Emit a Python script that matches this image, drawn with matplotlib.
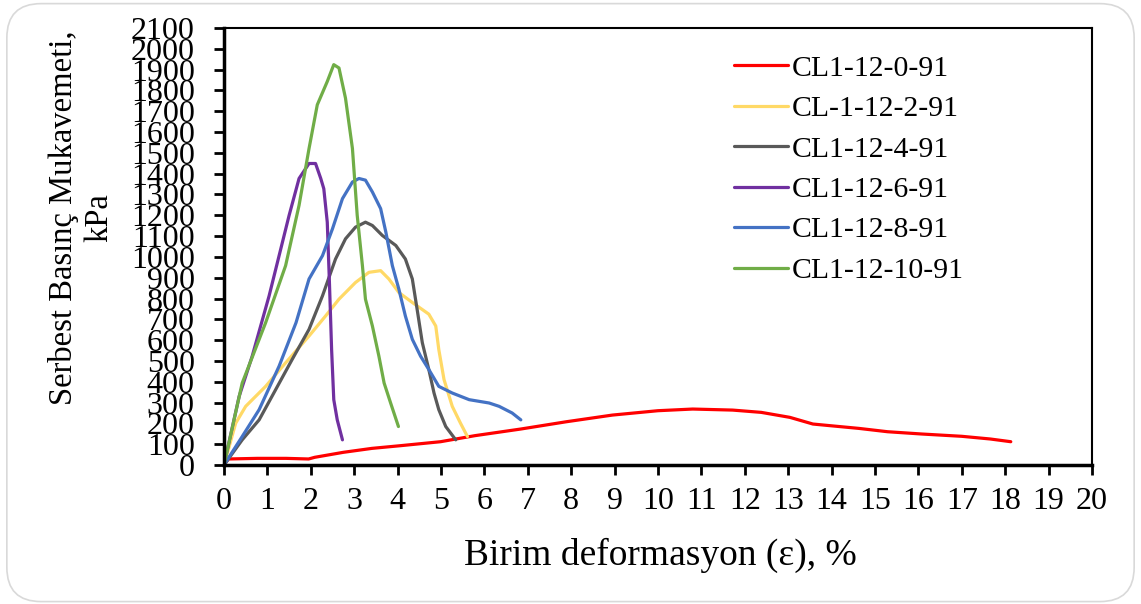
import numpy as np
import matplotlib.pyplot as plt
from matplotlib.patches import FancyBboxPatch

plt.rcParams['font.family'] = ['Liberation Serif', 'DejaVu Serif']

# strain (%) and strength (kPa)
x_0 = [0, 0.1, 0.77, 1.43, 1.95, 2.09, 2.75, 3.41, 4.07, 4.99, 5.78, 6.84, 7.89, 8.95,
       10.0, 10.8, 11.72, 12.38, 13.04, 13.57, 13.97, 14.63, 15.29, 16.08, 17.0, 17.66, 18.13]
y_0 = [0, 29, 32, 32, 29, 37, 61, 80, 93, 112, 141, 173, 208, 240,
       261, 269, 264, 253, 229, 197, 189, 176, 160, 149, 138, 125, 112]

x_2 = [0, 0.27, 0.50, 0.96, 1.42, 1.96, 2.34, 2.65, 3.03, 3.34, 3.61, 3.80, 4.03, 4.34,
       4.72, 4.88, 4.95, 5.07, 5.26, 5.45, 5.61]
y_2 = [0, 201, 282, 378, 491, 620, 716, 797, 877, 926, 934, 894, 829, 781,
       725, 668, 555, 411, 282, 201, 137]

x_4 = [0, 0.42, 0.81, 1.19, 1.57, 1.96, 2.27, 2.57, 2.80, 3.03, 3.26, 3.42, 3.65, 3.96,
       4.18, 4.34, 4.45, 4.57, 4.72, 4.84, 4.95, 5.11, 5.34]
y_4 = [0, 121, 217, 362, 507, 652, 813, 990, 1087, 1143, 1167, 1151, 1103, 1055,
       990, 894, 749, 588, 459, 346, 266, 185, 121]

x_6 = [0, 0.35, 0.65, 1.04, 1.27, 1.50, 1.73, 1.96, 2.11, 2.23, 2.30, 2.38, 2.43, 2.48,
       2.53, 2.61, 2.73]
y_6 = [0, 330, 523, 813, 1006, 1199, 1377, 1449, 1449, 1377, 1328, 1167, 877, 555,
       314, 217, 121]

x_8 = [0, 0.42, 0.81, 1.27, 1.66, 1.96, 2.27, 2.50, 2.73, 2.96, 3.11, 3.26, 3.42, 3.61,
       3.73, 3.88, 4.03, 4.18, 4.34, 4.53, 4.72, 4.95, 5.26, 5.65, 6.11, 6.34, 6.64, 6.84]
y_8 = [0, 137, 266, 475, 684, 894, 1006, 1135, 1280, 1360, 1377, 1369, 1312, 1232,
       1119, 958, 845, 716, 604, 523, 459, 378, 346, 314, 298, 282, 250, 217]

x_10 = [0, 0.42, 0.96, 1.42, 1.73, 1.96, 2.15, 2.38, 2.53, 2.65, 2.80, 2.96, 3.07, 3.19,
        3.26, 3.42, 3.57, 3.69, 3.84, 4.02]
y_10 = [0, 394, 684, 958, 1248, 1521, 1731, 1843, 1924, 1908, 1763, 1521, 1200, 958,
        797, 668, 523, 394, 298, 185]

labels = ['CL1-12-0-91', 'CL-1-12-2-91', 'CL1-12-4-91', 'CL1-12-6-91', 'CL1-12-8-91', 'CL1-12-10-91']
colors = ['#FF0000', '#FFD966', '#595959', '#7030A0', '#4472C4', '#70AD47']
xs = [x_0, x_2, x_4, x_6, x_8, x_10]
ys = [y_0, y_2, y_4, y_6, y_8, y_10]

fig = plt.figure(figsize=(11.41, 6.04), dpi=100)
ax = fig.add_axes([0.1963, 0.2301, 0.7607, 0.7235])

for x, y, c, lab in zip(xs, ys, colors, labels):
    ax.plot(x, y, color=c, lw=2.3, label=lab, solid_capstyle='round', solid_joinstyle='round')

ax.set_xlim(0, 20)
ax.set_ylim(0, 2100)
ax.set_xticks(np.arange(0, 21, 1))
ax.set_yticks(np.arange(0, 2101, 100))
ax.tick_params(direction='out', length=7, width=2, labelsize=23)
ax.tick_params(axis='x', pad=9)
ax.tick_params(axis='y', pad=14)
for s in ['left', 'bottom']:
    ax.spines[s].set_linewidth(2.5)
for s in ['top', 'right']:
    ax.spines[s].set_linewidth(1.5)

fig.text(0.5785, 0.0646, 'Birim deformasyon (ε), %', fontsize=27, ha='center', va='baseline')
fig.text(0.071, 0.639, 'Serbest Basınç Mukavemeti,\nkPa', rotation=90, fontsize=23.5,
         ha='center', va='center', multialignment='center', linespacing=1.2)

leg = ax.legend(loc='upper left', bbox_to_anchor=(0.557, 1.0), frameon=False,
                fontsize=21.4, handlelength=1.8, handletextpad=0.15, labelspacing=0.46)

border = FancyBboxPatch((0.006, 0.004), 0.988, 0.99, boxstyle='round,pad=0,rounding_size=0.03',
                        transform=fig.transFigure, fill=False, edgecolor='#D9D9D9', lw=1.2,
                        mutation_aspect=1141 / 604)
fig.patches.append(border)

fig.savefig('out.png', dpi=100)
